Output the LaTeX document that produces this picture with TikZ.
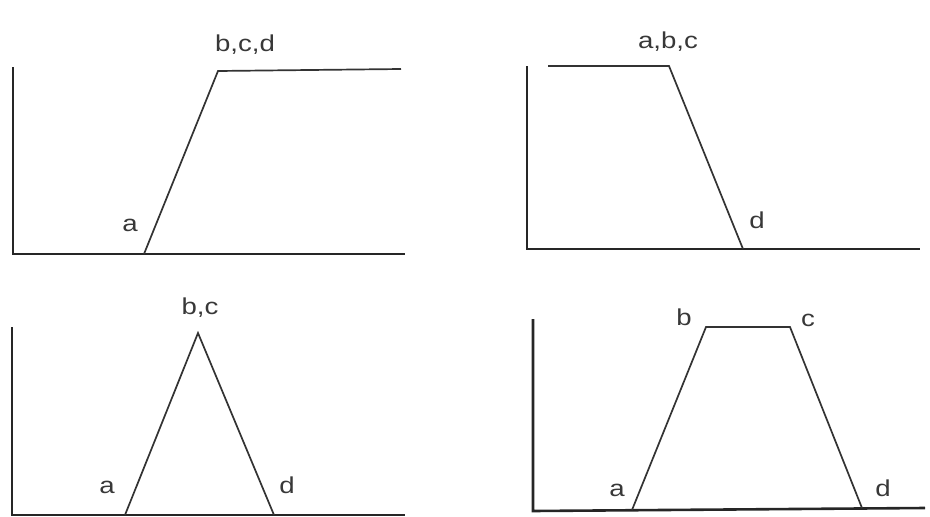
\documentclass[tikz,border=0pt]{standalone}
\usepackage{fontspec}
\setmainfont{Liberation Sans}
\begin{document}
\begin{tikzpicture}[x=1pt,y=-1pt,
  axis/.style={draw=black!85,line width=2.6pt},
  curve/.style={draw=black!80,line width=1.7pt,line join=miter},
  lbl/.style={anchor=base,inner sep=0pt,font=\fontsize{23}{25}\selectfont,text=black!78}]
\useasboundingbox (0,0) rectangle (930,517);
% ---- panel 1
\coordinate (o1) at (13,254); \coordinate (y1) at (13,67); \coordinate (x1) at (405,254);
\coordinate (p1a) at (144,254); \coordinate (p1b) at (218,71); \coordinate (p1e) at (401,69);
\draw[axis] (y1) -- (o1) -- (x1);
\draw[curve] (p1a) -- (p1b) -- (p1e);
\node[lbl] (l1b) at (245,51) {\scalebox{1.2}[1]{b,c,d}};
\node[lbl] (l1a) at (130,231) {\scalebox{1.2}[1]{a}};
% ---- panel 2
\coordinate (o2) at (527,249); \coordinate (y2) at (527,66); \coordinate (x2) at (920,249);
\coordinate (p2s) at (548,66); \coordinate (p2c) at (669,66); \coordinate (p2d) at (743,249);
\draw[axis] (y2) -- (o2) -- (x2);
\draw[curve] (p2s) -- (p2c) -- (p2d);
\node[lbl] (l2a) at (668,48) {\scalebox{1.2}[1]{a,b,c}};
\node[lbl] (l2d) at (757,228) {\scalebox{1.2}[1]{d}};
% ---- panel 3
\coordinate (o3) at (12,515); \coordinate (y3) at (12,327); \coordinate (x3) at (405,515);
\coordinate (p3a) at (125,515); \coordinate (p3b) at (198,333); \coordinate (p3d) at (274,515);
\draw[axis] (y3) -- (o3) -- (x3);
\draw[curve] (p3a) -- (p3b) -- (p3d);
\node[lbl] (l3b) at (200,314) {\scalebox{1.2}[1]{b,c}};
\node[lbl] (l3a) at (107,493) {\scalebox{1.2}[1]{a}};
\node[lbl] (l3d) at (287,493) {\scalebox{1.2}[1]{d}};
% ---- panel 4
\coordinate (o4) at (533,511); \coordinate (y4) at (533,319); \coordinate (x4) at (925,508);
\coordinate (p4a) at (632,510); \coordinate (p4b) at (706,327); \coordinate (p4c) at (790,327); \coordinate (p4d) at (862,508);
\draw[axis] (y4) -- (o4) -- (x4);
\draw[curve] (p4a) -- (p4b) -- (p4c) -- (p4d);
\node[lbl] (l4b) at (684,325) {\scalebox{1.2}[1]{b}};
\node[lbl] (l4c) at (808,326) {\scalebox{1.2}[1]{c}};
\node[lbl] (l4a) at (617,496) {\scalebox{1.2}[1]{a}};
\node[lbl] (l4d) at (883,496) {\scalebox{1.2}[1]{d}};
\end{tikzpicture}
\end{document}
